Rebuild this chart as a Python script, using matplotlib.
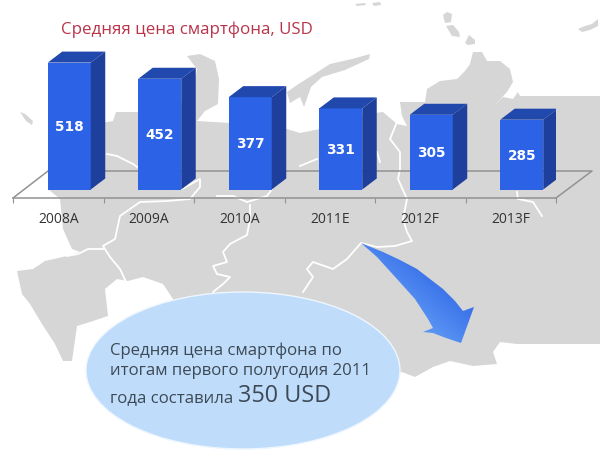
import numpy as np
import matplotlib
matplotlib.use("Agg")
import matplotlib.pyplot as plt
from matplotlib.patches import Polygon, Ellipse
from matplotlib.colors import LinearSegmentedColormap

# ---- data ----
categories = ["2008A", "2009A", "2010A", "2011E", "2012F", "2013F"]
prices = [518, 452, 377, 331, 305, 285]
title = "Средняя цена смартфона, USD"
note_lines = ["Средняя цена смартфона по", "итогам первого полугодия 2011", "года составила"]
note_value = "350 USD"

# ---- styles ----
W, H = 600, 460
GRAY = "#d6d6d6"
FRONT, TOP, SIDE = "#2b62e6", "#2148ac", "#1e409c"
AXIS = "#929292"
TXT = "#3d4a55"
PX_PER_UNIT = 0.245          # vertical pixels per USD
BAND_PX = 90.5
plt.rcParams["font.family"] = ["Open Sans", "DejaVu Sans"]

fig = plt.figure(figsize=(W / 100, H / 100), dpi=100, facecolor="white")

# ---- backdrop: map, floor, callout (pixel space) ----
bg = fig.add_axes([0, 0, 1, 1], zorder=0)
bg.set_xlim(0, W)
bg.set_ylim(H, 0)
bg.axis("off")

main_map = [
    (60, 200), (48, 190), (70, 130), (107, 123), (113, 122), (116, 113), (137, 113), (160, 110),
    (192, 100), (197, 70), (187, 57), (200, 55), (215, 62), (219, 80), (218, 105), (205, 112),
    (197, 122), (230, 124), (275, 125), (287, 130), (300, 134), (320, 130), (365, 115), (383, 113),
    (397, 125), (407, 127), (402, 117), (400, 103), (425, 103), (427, 90), (440, 82), (457, 80),
    (465, 72), (470, 65), (473, 53), (482, 53), (487, 62), (500, 62), (510, 70), (513, 83),
    (507, 93), (493, 108), (503, 98), (513, 100), (518, 93), (520, 97), (600, 97), (600, 345),
    (517, 345), (500, 343), (493, 353), (497, 365), (473, 367), (450, 362), (433, 368), (415, 378),
    (402, 373), (380, 380), (300, 400), (200, 400), (175, 320), (173, 300), (163, 285), (143, 278),
    (128, 282), (117, 280), (105, 290), (108, 317), (90, 323), (77, 327), (72, 362), (63, 362),
    (55, 345), (42, 325), (30, 305), (22, 295), (17, 272), (33, 270), (45, 262), (67, 257),
    (80, 253), (72, 250), (63, 230),
]
bg.add_patch(Polygon(main_map, closed=True, fc=GRAY, ec="none"))

islands = [
    [(290, 104), (287, 93), (300, 84), (313, 76), (330, 65), (352, 60), (370, 55), (369, 60),
     (345, 71), (322, 78), (311, 88), (304, 108), (300, 98)],
    [(443, 16), (447, 13), (452, 15), (451, 23), (445, 24)],
    [(446, 27), (453, 26), (459, 33), (460, 38), (452, 37)],
    [(465, 44), (469, 36), (475, 41), (475, 45), (468, 46)],
    [(578, 30), (585, 27), (592, 25), (598, 20), (598, 27), (590, 31), (582, 33)],
    [(20, 113), (25, 115), (33, 122), (32, 126), (26, 122)],
    [(355, 5), (365, 4), (366, 6), (357, 7)],
    [(372, 4), (380, 3), (381, 6), (374, 7)],
]
for isl in islands:
    bg.add_patch(Polygon(isl, closed=True, fc=GRAY, ec="none"))

borders = [
    [(107, 155), (117, 157), (133, 165), (140, 170)],
    [(182, 190), (200, 180), (200, 188), (190, 200), (167, 202), (140, 203), (120, 217), (115, 240),
     (103, 247), (110, 258), (120, 270), (127, 285)],
    [(103, 250), (88, 250), (78, 255), (67, 257)],
    [(217, 197), (233, 197), (247, 203), (267, 197), (272, 190)],
    [(250, 206), (250, 220), (247, 236), (230, 245), (223, 253), (227, 263), (213, 267), (217, 275),
     (230, 278), (223, 285), (213, 293)],
    [(300, 167), (317, 160)],
    [(377, 153), (380, 163)],
    [(387, 113), (397, 123), (390, 140), (400, 153), (400, 170), (398, 180), (407, 200), (403, 220),
     (407, 233), (412, 242), (395, 247), (377, 248), (361, 244), (347, 260), (333, 270), (313, 263),
     (307, 270), (313, 278), (303, 293)],
    [(517, 193), (518, 200), (533, 203), (542, 217)],
]
for b in borders:
    xs, ys = zip(*b)
    bg.plot(xs, ys, color="white", lw=1.3, solid_joinstyle="round")

floor_x = [13, 48, 592, 556]
floor_y = [199, 172, 172, 199]
bg.plot(floor_x, floor_y, color=AXIS, lw=1.1)

bg.add_patch(Ellipse((243, 371.5), 314, 157, fc="#bfdcfb", ec="#eef6ff", lw=1, zorder=3))
for y, line in zip([350.5, 371.5], note_lines[:2]):
    bg.text(110, y, line, fontsize=12.1, color=TXT, va="center", zorder=4)
bg.text(110, 398, note_lines[2], fontsize=12.1, color=TXT, va="center", zorder=4)
bg.text(238, 396.5, note_value, fontsize=16.8, color=TXT, va="center", zorder=4)
bg.text(61, 30, title, fontsize=12.2, color="#b9344a", va="center", zorder=4)

# arrow with gradient
arrow = [(361, 244), (383, 253), (400, 261), (417, 270), (443, 290), (455, 302), (463, 312),
         (474, 308), (461, 344), (446, 339), (433, 334), (423, 333), (433, 329), (428, 320),
         (415, 300), (397, 280), (377, 258)]
cmap = LinearSegmentedColormap.from_list("arr", ["#3f78ee", "#5c96f4", "#3c74ea", "#2b5ee0"])
xg, yg = np.meshgrid(np.linspace(0, 1, 128), np.linspace(0, 1, 128))
im = bg.imshow(xg * 0.6 - yg * 0.6 + 0.5, extent=(360, 475, 345, 243), cmap=cmap, vmin=0, vmax=1,
               aspect="auto", zorder=3)
clip = Polygon(arrow, closed=True, transform=bg.transData, fc="none", ec="none")
bg.add_patch(clip)
im.set_clip_path(clip)
bg.set_xlim(0, W)
bg.set_ylim(H, 0)

# ---- chart: real scales ----
base_px = 190.5
floor_px = 199
top_px = 20
x0 = 13
ax = fig.add_axes([x0 / W, (H - floor_px) / H, 6 * BAND_PX / W, (floor_px - top_px) / H], zorder=2)
ax.patch.set_alpha(0)
ax.set_xlim(-0.5, 5.5)
ax.set_ylim(-(floor_px - base_px) / PX_PER_UNIT, (base_px - top_px) / PX_PER_UNIT)
for s in ["top", "left", "right"]:
    ax.spines[s].set_visible(False)
ax.spines["bottom"].set_color(AXIS)
ax.spines["bottom"].set_linewidth(1.1)
ax.set_yticks([])
ax.set_xticks(np.arange(-0.5, 6.0, 1.0))
ax.set_xticklabels([])
ax.tick_params(axis="x", which="major", length=3.5, color=AXIS, width=0.8)
ax.set_xticks(np.arange(len(categories)), labels=categories, minor=True)
ax.tick_params(axis="x", which="minor", length=0, pad=9.5, labelsize=10, labelcolor="#333333")

shift = 11 / BAND_PX
bw = 43 / BAND_PX
dx = 14.5 / BAND_PX
dy = 11 / PX_PER_UNIT
xpos = np.arange(len(categories)) + shift
ax.bar(xpos, prices, width=bw, color=FRONT, zorder=3)
for x, v in zip(xpos, prices):
    l, r = x - bw / 2, x + bw / 2
    ax.fill([l, l + dx, r + dx, r], [v, v + dy, v + dy, v], color=TOP, lw=0, zorder=3)
    ax.fill([r, r + dx, r + dx, r], [0, dy, v + dy, v], color=SIDE, lw=0, zorder=3)
    ax.text(x, v / 2, str(v), color="white", fontsize=9.8, fontweight="bold", family="DejaVu Sans",
            ha="center", va="center", zorder=4)

fig.savefig("out.png", dpi=100)
